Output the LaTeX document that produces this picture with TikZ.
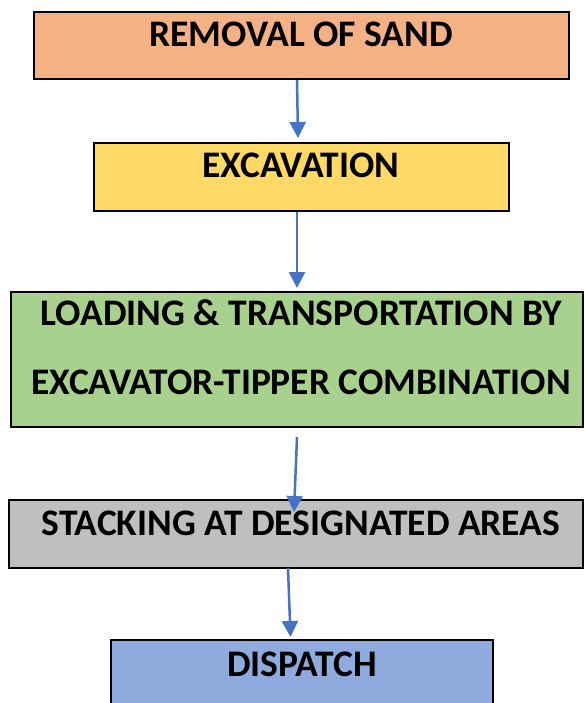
\documentclass[tikz,border=0pt]{standalone}
\usepackage{fontspec}
\setmainfont{Carlito}
\usetikzlibrary{arrows.meta}
\definecolor{cOrange}{HTML}{F4B183}
\definecolor{cYellow}{HTML}{FFD966}
\definecolor{cGreen}{HTML}{A9D18E}
\definecolor{cGrey}{HTML}{BFBFBF}
\definecolor{cBlue}{HTML}{8FAADC}
\definecolor{cArrow}{HTML}{4472C4}
\begin{document}
\begin{tikzpicture}[x=1pt,y=-1pt,
  stepbox/.style={draw=black, line width=2pt, rectangle, inner sep=0pt},
  txt/.style={anchor=base, inner sep=0pt, font=\fontsize{37.5}{44}\selectfont\bfseries, text=black},
  arr/.style={draw=cArrow, line width=2.5pt, -{Triangle[width=16pt,length=16pt]}}]
\clip (0,0) rectangle (585,703);
\fill[white] (0,0) rectangle (585,703);
% boxes
\node[stepbox, fill=cOrange, minimum width=535pt, minimum height=67pt] (b1) at (301.5,45.5) {};
\node[stepbox, fill=cYellow, minimum width=415pt, minimum height=68pt] (b2) at (301.5,177) {};
\node[stepbox, fill=cGreen, minimum width=572pt, minimum height=135pt] (b3) at (297,359.5) {};
\node[stepbox, fill=cGrey, minimum width=574pt, minimum height=68pt] (b4) at (296,534) {};
\node[stepbox, fill=cBlue, minimum width=382pt, minimum height=70pt] (b5) at (302,675) {};
% texts
\node[txt] (t1) at (301,47) {REMOVAL OF SAND};
\node[txt] (t2) at (301,178) {EXCAVATION};
\node[txt] (t3a) at (301,325) {LOADING \& TRANSPORTATION BY};
\node[txt] (t3b) at (301,394) {EXCAVATOR-TIPPER COMBINATION};
\node[txt] (t4) at (301,535) {STACKING AT DESIGNATED AREAS};
\node[txt] (t5) at (302,676) {DISPATCH};
% arrows
\draw[arr] ([xshift=-4.5pt]b1.south) -- ([xshift=-3.5pt,yshift=4pt]b2.north);
\draw[arr] ([xshift=-4.5pt]b2.south) -- ([yshift=3pt]b3.north);
\draw[arr] ([yshift=-9pt]b3.south) -- ([xshift=-2pt,yshift=-13pt]b4.north);
\draw[arr] ([xshift=-8pt,yshift=1pt]b4.south) -- ([xshift=-11.5pt,yshift=2pt]b5.north);
\end{tikzpicture}
\end{document}
